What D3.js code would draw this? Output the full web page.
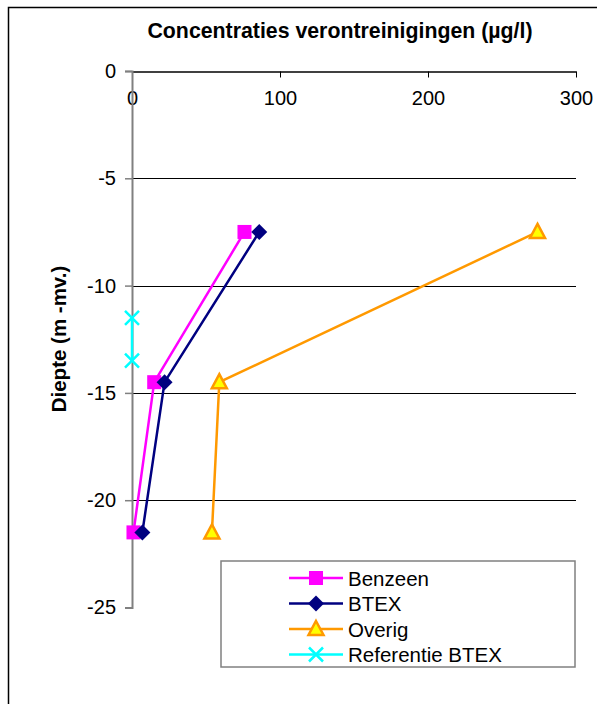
<!DOCTYPE html>
<html>
<head>
<meta charset="utf-8">
<script src="https://cdn.jsdelivr.net/npm/d3@7"></script>
<style>
  html, body { margin: 0; padding: 0; background: #fff; }
  svg { display: block; font-family: "Liberation Sans", Arial, sans-serif; }
</style>
</head>
<body>
<script>
// Depth profile data (depth in m below surface, concentration in µg/l)
const depths = [-7.5, -14.5, -21.5];
const benzeen = [76, 15, 1];
const btex = [86, 22, 7];
const overig = [274, 59, 54];
const refDepths = [-11.5, -13.5];
const refBtex = [0, 0];

const xTicks = [0, 100, 200, 300];
const yTicks = [0, -5, -10, -15, -20, -25];

const seriesNames = ["Benzeen", "BTEX", "Overig", "Referentie BTEX"];

const FONT = "'Liberation Sans', Arial, sans-serif";
const W = 597, H = 704;
const svg = d3.select("body").append("svg").attr("width", W).attr("height", H);

// Outer chart frame
svg.append("rect").attr("x", 8.5).attr("y", 7.5).attr("width", 800).attr("height", 900)
  .attr("fill", "#fff").attr("stroke", "#000").attr("stroke-width", 1.5);

const x = d3.scaleLinear().domain([0, 300]).range([132, 576]);
const y = d3.scaleLinear().domain([0, -25]).range([71, 607.5]);

// Horizontal gridlines
svg.append("g").selectAll("line").data(yTicks.slice(1, -1)).join("line")
  .attr("x1", x(0)).attr("x2", x(300))
  .attr("y1", d => Math.round(y(d)) + 0.5).attr("y2", d => Math.round(y(d)) + 0.5)
  .attr("stroke", "#000").attr("stroke-width", 1);

// Y axis (left), gray
const yAxis = d3.axisLeft(y).tickValues(yTicks).tickSize(7).tickPadding(9).tickFormat(d => String(d));
const gy = svg.append("g").attr("transform", `translate(${x(0)},0)`).call(yAxis);
gy.attr("font-family", FONT);
gy.select(".domain").attr("stroke", "#808080").attr("stroke-width", 2);
gy.selectAll(".tick line").attr("stroke", "#808080").attr("stroke-width", 1.5);
gy.selectAll(".tick text").attr("font-size", "20px").attr("fill", "#000");

// X axis along the top, ticks pointing down into the plot, labels below the line
const xAxis = d3.axisBottom(x).tickValues(xTicks).tickSize(6).tickPadding(13).tickSizeOuter(0)
  .tickFormat(d => String(d));
const gx = svg.append("g").attr("transform", `translate(0,${Math.round(y(0)) + 0.5})`).call(xAxis);
gx.attr("font-family", FONT);
gx.select(".domain").attr("stroke", "#000").attr("stroke-width", 1.5);
gx.selectAll(".tick line").attr("stroke", "#000");
gx.selectAll(".tick text").attr("font-size", "20px").attr("fill", "#000");
gy.raise();

// Title
svg.append("text").attr("x", 340).attr("y", 38).attr("text-anchor", "middle")
  .attr("font-size", "21.3px").attr("font-weight", "bold")
  .text("Concentraties verontreinigingen (µg/l)");

// Y axis title
svg.append("text").attr("transform", "translate(66,339) rotate(-90)").attr("text-anchor", "middle")
  .attr("font-size", "20.5px").attr("font-weight", "bold")
  .text("Diepte (m -mv.)");

// Series definitions
const series = [
  { name: seriesNames[0], xs: benzeen, ys: depths, color: "#FF00FF", marker: "square" },
  { name: seriesNames[1], xs: btex, ys: depths, color: "#000080", marker: "diamond" },
  { name: seriesNames[2], xs: overig, ys: depths, color: "#FF9900", marker: "triangle" },
  { name: seriesNames[3], xs: refBtex, ys: refDepths, color: "#00FFFF", marker: "cross" }
];

function drawMarker(g, type, color, cx, cy) {
  if (type === "square") {
    g.append("rect").attr("x", cx - 7).attr("y", cy - 7).attr("width", 14).attr("height", 14)
      .attr("fill", color);
  } else if (type === "diamond") {
    g.append("path").attr("d", `M${cx},${cy - 8}L${cx + 8},${cy}L${cx},${cy + 8}L${cx - 8},${cy}Z`)
      .attr("fill", color);
  } else if (type === "triangle") {
    g.append("path").attr("d", `M${cx},${cy - 8}L${cx + 7.5},${cy + 6}L${cx - 7.5},${cy + 6}Z`)
      .attr("fill", "#FFFF00").attr("stroke", color).attr("stroke-width", 2.5).attr("stroke-linejoin", "miter");
  } else if (type === "cross") {
    g.append("path").attr("d", `M${cx - 7},${cy - 7}L${cx + 7},${cy + 7}M${cx - 7},${cy + 7}L${cx + 7},${cy - 7}`)
      .attr("stroke", color).attr("stroke-width", 2.5);
  }
}

const line = d3.line().x(d => x(d[0])).y(d => y(d[1]));
series.forEach(s => {
  const pts = s.xs.map((v, i) => [v, s.ys[i]]);
  const g = svg.append("g");
  g.append("path").attr("d", line(pts)).attr("fill", "none")
    .attr("stroke", s.color).attr("stroke-width", 2.5);
  pts.forEach(p => drawMarker(g, s.marker, s.color, x(p[0]), y(p[1])));
});

// Legend
const lg = svg.append("g");
lg.append("rect").attr("x", 221).attr("y", 561).attr("width", 354).attr("height", 106)
  .attr("fill", "#fff").attr("stroke", "#808080").attr("stroke-width", 1.5);
series.forEach((s, i) => {
  const ly = 578 + i * 25.5;
  lg.append("line").attr("x1", 289).attr("x2", 343).attr("y1", ly).attr("y2", ly)
    .attr("stroke", s.color).attr("stroke-width", 2.5);
  drawMarker(lg, s.marker, s.color, 316, ly);
  lg.append("text").attr("x", 348).attr("y", ly + 7.5).attr("font-size", "20.5px").text(s.name);
});
</script>
</body>
</html>
